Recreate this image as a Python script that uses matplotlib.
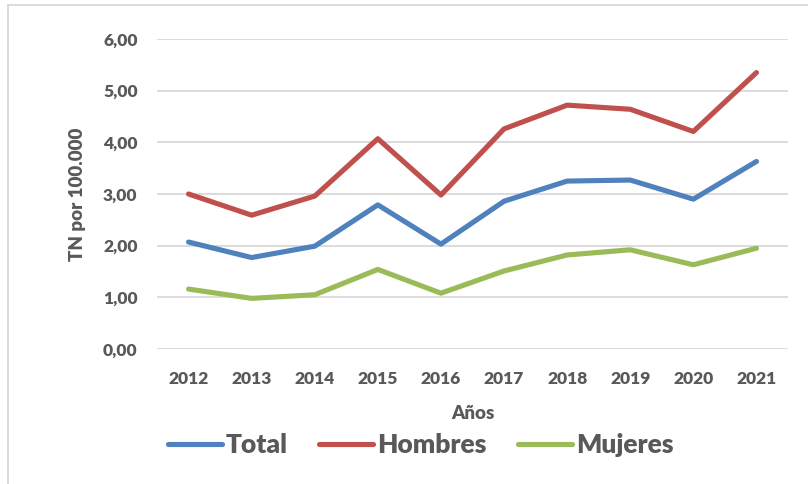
import matplotlib
matplotlib.use("Agg")
import matplotlib.pyplot as plt
from matplotlib.lines import Line2D

years = ["2012", "2013", "2014", "2015", "2016", "2017", "2018", "2019", "2020", "2021"]
total = [2.07, 1.77, 1.99, 2.79, 2.03, 2.86, 3.25, 3.27, 2.90, 3.63]
hombres = [3.00, 2.59, 2.96, 4.07, 2.98, 4.26, 4.72, 4.64, 4.21, 5.35]
mujeres = [1.16, 0.98, 1.05, 1.54, 1.08, 1.51, 1.82, 1.92, 1.63, 1.95]
yticks = [0, 1, 2, 3, 4, 5, 6]
ytick_labels = ["0,00", "1,00", "2,00", "3,00", "4,00", "5,00", "6,00"]

FONT = ["Lato", "DejaVu Sans"]
GRAY = "#595959"
plt.rcParams['font.family'] = FONT

W, H = 808, 484
fig = plt.figure(figsize=(W / 100, H / 100), dpi=100)
fig.patch.set_facecolor("white")
# light frame: top and left edges only
fig.add_artist(Line2D([8 / W, 1.0], [1 - 5 / H, 1 - 5 / H], transform=fig.transFigure,
                      color="#D9D9D9", linewidth=1.3))
fig.add_artist(Line2D([8 / W, 8 / W], [0.0, 1 - 5 / H], transform=fig.transFigure,
                      color="#D9D9D9", linewidth=1.3))

ax = fig.add_axes([157 / W, 135 / H, 631 / W, 310 / H])
x = list(range(len(years)))
lw = 3.7
l1, = ax.plot(x, total, color="#4F81BD", lw=lw, solid_capstyle="round", solid_joinstyle="round", label="Total")
l2, = ax.plot(x, hombres, color="#C0504D", lw=lw, solid_capstyle="round", solid_joinstyle="round", label="Hombres")
l3, = ax.plot(x, mujeres, color="#9BBB59", lw=lw, solid_capstyle="round", solid_joinstyle="round", label="Mujeres")

ax.set_xlim(-0.5, len(years) - 0.5)
ax.set_ylim(0, 6)
ax.set_yticks(yticks)
ax.set_yticklabels(ytick_labels)
ax.set_xticks(x)
ax.set_xticklabels(years)
ax.grid(axis="y", color="#D9D9D9", linewidth=1.3)
ax.set_axisbelow(True)
for s in ax.spines.values():
    s.set_visible(False)
ax.tick_params(axis="both", length=0, labelsize=12.5, colors=GRAY)
ax.tick_params(axis="y", pad=14)
ax.tick_params(axis="x", pad=16)
for lab in ax.get_xticklabels() + ax.get_yticklabels():
    lab.set_fontweight("heavy")

ax.set_ylabel("TN por 100.000", fontsize=13.5, fontweight="heavy", color=GRAY, labelpad=12)
ax.set_xlabel("Años", fontsize=13.5, fontweight="heavy", color=GRAY, labelpad=13)

leg = fig.legend(handles=[l1, l2, l3], loc="center left", bbox_to_anchor=(157 / W, 1 - 445 / H),
                 ncol=3, frameon=False, prop={"family": FONT, "weight": "heavy", "size": 19},
                 handlelength=2.05, handletextpad=0.15, columnspacing=1.2, borderaxespad=0)
for t in leg.get_texts():
    t.set_color(GRAY)

fig.savefig("out.png", dpi=100, facecolor="white")
